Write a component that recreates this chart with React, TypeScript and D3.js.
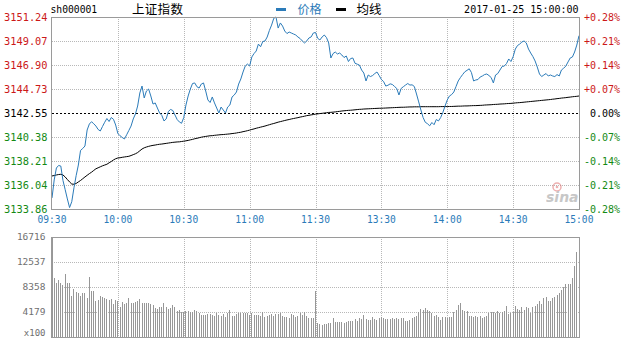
import React from 'react';
import * as d3 from 'd3';

// Shanghai Composite intraday, 2017-01-25 (one point per minute, 09:30-11:30 and 13:01-15:00)
const code = 'sh000001';
const title = '上证指数';
const stamp = '2017-01-25 15:00:00';
const prevClose = 3142.55;

const timeLabels = ['09:30', '10:00', '10:30', '11:00', '11:30', '13:30', '14:00', '14:30', '15:00'];
const timeIndex = [0, 30, 60, 90, 120, 150, 180, 210, 240];
const priceTicks = [3151.24, 3149.07, 3146.9, 3144.73, 3142.55, 3140.38, 3138.21, 3136.04, 3133.86];
const pctTicks = ['+0.28%', '+0.21%', '+0.14%', '+0.07%', '0.00%', '-0.07%', '-0.14%', '-0.21%', '-0.28%'];
const volTicks = [16716, 12537, 8358, 4179];

const price = [
  3134.86, 3136.49, 3137.57, 3137.8, 3137.75, 3136.44, 3135.61, 3134.77, 3133.99, 3134.52,
  3135.78, 3136.88, 3137.84, 3139.16, 3139.34, 3139.56, 3141.01, 3141.55, 3141.76, 3141.58,
  3141.37, 3141.06, 3140.92, 3141.33, 3141.71, 3142.05, 3141.78, 3142.14, 3141.98, 3141.46,
  3140.69, 3140.49, 3140.33, 3140.2, 3140.58, 3140.97, 3141.37, 3142.01, 3142.46, 3143.18,
  3144.36, 3144.99, 3143.91, 3144.54, 3144.72, 3144.09, 3143.36, 3143.46, 3143.0, 3142.55,
  3142.34, 3141.83, 3142.01, 3142.69, 3142.87, 3142.78, 3142.37, 3141.96, 3141.74, 3141.62,
  3142.14, 3143.27, 3144.09, 3144.72, 3145.22, 3145.27, 3144.93, 3144.81, 3145.17, 3145.27,
  3144.54, 3143.73, 3143.5, 3144.0, 3143.46, 3143.0, 3142.55, 3143.09, 3142.82, 3142.55,
  3143.09, 3143.27, 3144.0, 3144.18, 3144.45, 3145.17, 3145.63, 3146.26, 3146.8, 3146.98,
  3146.8, 3147.62, 3147.93, 3148.16, 3148.79, 3148.55, 3149.02, 3149.07, 3149.43, 3150.02,
  3150.51, 3151.12, 3151.24, 3150.24, 3150.7, 3150.42, 3149.97, 3149.74, 3149.88, 3149.79,
  3149.7, 3149.61, 3149.43, 3149.29, 3149.07, 3148.89, 3149.07, 3149.34, 3149.43, 3149.79,
  3149.84,
  3149.31, 3149.16, 3149.43, 3149.61, 3149.38, 3148.89, 3147.53, 3147.93, 3148.07,
  3147.89, 3147.98, 3147.8, 3147.57, 3147.71, 3147.21, 3147.48, 3147.53, 3147.05, 3146.97,
  3146.89, 3146.44, 3146.17, 3145.45, 3145.99, 3145.85, 3145.94, 3146.12, 3146.26, 3145.94,
  3145.58, 3145.4, 3144.99, 3145.06, 3145.19, 3145.13, 3144.95, 3144.77, 3144.18, 3144.77,
  3144.93, 3145.08, 3145.22, 3145.08, 3145.1, 3144.95, 3144.27, 3143.55, 3142.82, 3142.14,
  3141.71, 3141.58, 3141.39, 3141.69, 3141.49, 3141.96, 3141.83, 3142.14, 3142.6, 3143.18,
  3143.73, 3144.09, 3144.22, 3144.45, 3144.95, 3145.45, 3145.76, 3146.03, 3146.28, 3146.41,
  3146.55, 3146.22, 3145.45, 3145.54, 3145.58, 3145.81, 3145.9, 3146.03, 3146.08, 3145.94,
  3145.76, 3145.27, 3145.99, 3146.12, 3146.44, 3146.76, 3146.8, 3147.03, 3147.44, 3147.21,
  3147.65, 3148.34, 3148.66, 3148.79, 3148.98, 3149.07, 3148.89, 3148.34, 3147.98, 3147.66,
  3147.26, 3146.71, 3146.08, 3145.85, 3145.99, 3146.12, 3145.9, 3145.99, 3145.9, 3145.85,
  3146.03, 3145.9, 3146.44, 3146.6, 3146.8, 3147.17, 3147.53, 3147.62, 3148.07, 3148.7,
  3149.55,
];

const avgPrice = [
  3136.85, 3136.89, 3136.94, 3136.98, 3137.0, 3136.94, 3136.76, 3136.53, 3136.31, 3136.12,
  3136.1, 3136.17, 3136.31, 3136.44, 3136.6, 3136.76, 3136.91, 3137.06, 3137.19, 3137.35,
  3137.5, 3137.59, 3137.68, 3137.77, 3137.84, 3137.91, 3138.04, 3138.16, 3138.3, 3138.41,
  3138.48, 3138.5, 3138.54, 3138.57, 3138.6, 3138.63, 3138.7, 3138.78, 3138.86, 3138.97,
  3139.13, 3139.29, 3139.4, 3139.47, 3139.53, 3139.58, 3139.62, 3139.65, 3139.69, 3139.72,
  3139.74, 3139.77, 3139.8, 3139.83, 3139.86, 3139.89, 3139.91, 3139.93, 3139.94, 3139.97,
  3140.0, 3140.03, 3140.07, 3140.12, 3140.16, 3140.22, 3140.26, 3140.31, 3140.36, 3140.4,
  3140.43, 3140.46, 3140.49, 3140.5, 3140.53, 3140.55, 3140.57, 3140.59, 3140.6, 3140.62,
  3140.64, 3140.66, 3140.69, 3140.71, 3140.74, 3140.78, 3140.81, 3140.86, 3140.9, 3140.95,
  3141.0, 3141.06, 3141.11, 3141.17, 3141.22, 3141.27, 3141.32, 3141.37, 3141.43, 3141.49,
  3141.55, 3141.6, 3141.66, 3141.72, 3141.77, 3141.82, 3141.87, 3141.92, 3141.96, 3142.01,
  3142.05, 3142.09, 3142.13, 3142.18, 3142.22, 3142.26, 3142.31, 3142.34, 3142.38, 3142.41,
  3142.45,
  3142.47, 3142.5, 3142.52, 3142.55, 3142.57, 3142.6, 3142.61, 3142.63, 3142.65,
  3142.68, 3142.7, 3142.73, 3142.75, 3142.77, 3142.79, 3142.8, 3142.82, 3142.84, 3142.86,
  3142.88, 3142.89, 3142.91, 3142.92, 3142.93, 3142.94, 3142.95, 3142.96, 3142.97, 3142.98,
  3142.98, 3142.99, 3143.0, 3143.01, 3143.02, 3143.03, 3143.04, 3143.05, 3143.06, 3143.07,
  3143.07, 3143.08, 3143.09, 3143.1, 3143.1, 3143.11, 3143.11, 3143.11, 3143.12, 3143.12,
  3143.12, 3143.12, 3143.12, 3143.12, 3143.12, 3143.12, 3143.12, 3143.13, 3143.13, 3143.13,
  3143.13, 3143.14, 3143.14, 3143.15, 3143.16, 3143.17, 3143.17, 3143.18, 3143.19, 3143.19,
  3143.2, 3143.21, 3143.22, 3143.22, 3143.23, 3143.24, 3143.25, 3143.27, 3143.28, 3143.29,
  3143.3, 3143.32, 3143.33, 3143.34, 3143.36, 3143.37, 3143.38, 3143.4, 3143.41, 3143.42,
  3143.44, 3143.46, 3143.48, 3143.49, 3143.51, 3143.53, 3143.55, 3143.57, 3143.59, 3143.61,
  3143.63, 3143.65, 3143.67, 3143.69, 3143.71, 3143.73, 3143.75, 3143.77, 3143.8, 3143.82,
  3143.85, 3143.87, 3143.9, 3143.92, 3143.94, 3143.97, 3143.99, 3144.02, 3144.04, 3144.06,
  3144.09,
];

// volume per minute, in units of 100 shares
const volume = [
  16716, 9807, 8971, 9528, 8971, 8692, 10476, 8971, 8971, 6854,
  7968, 7578, 7411, 6854, 7411, 7411, 6464, 10085, 7689, 7689,
  6073, 6185, 6854, 6631, 6464, 6297, 6185, 6297, 5516, 6185,
  6073, 4959, 5906, 5516, 5739, 6464, 5739, 5739, 5906, 6073,
  6352, 5739, 5628, 5739, 5628, 5516, 5349, 4792, 4625, 4959,
  5070, 5739, 4959, 4625, 4792, 5349, 4959, 4402, 4513, 4234,
  4234, 4402, 4402, 4234, 4234, 4513, 4402, 4067, 3678, 3678,
  3678, 3845, 3845, 3678, 3510, 3956, 3678, 3510, 3845, 3287,
  4067, 4513, 3510, 3510, 3845, 4067, 4067, 4067, 4067, 4067,
  3678, 4067, 3678, 3678, 3678, 3510, 4234, 3287, 3510, 3678,
  3845, 3510, 3845, 3845, 3956, 3510, 3287, 3287, 3120, 3845,
  3678, 3287, 3510, 4067, 3678, 4234, 3510, 3120, 3120, 3120,
  7650,
  2285, 2173, 2006, 2173, 2173, 2285, 2285, 3120, 2563,
  2563, 2563, 2563, 2396, 2563, 2730, 2730, 2730, 2953, 2730,
  3120, 2953, 3678, 2953, 2842, 2842, 3287, 2953, 2842, 3120,
  3287, 3120, 2953, 2953, 2953, 3120, 2953, 3120, 2953, 3120,
  3120, 2730, 2730, 2842, 3120, 3287, 3510, 4234, 4625, 4513,
  4792, 4513, 4402, 4067, 3510, 3678, 3287, 2842, 3287, 3287,
  3120, 3287, 3287, 4234, 4513, 5349, 5739, 4513, 4402, 4402,
  3510, 3510, 3287, 3510, 3287, 3510, 3120, 3287, 3510, 3956,
  4234, 4234, 3956, 4402, 4067, 4234, 4402, 5182, 3845, 4067,
  4234, 5182, 4625, 4513, 4959, 4513, 5070, 4792, 4067, 4959,
  5182, 5516, 6073, 5516, 6464, 6742, 6073, 6073, 6464, 6742,
  7021, 7411, 7800, 8302, 8860, 8860, 8860, 9807, 11868, 14264,
  13000,
];

const W = 629;
const H = 338;
const left = 52;
const right = 579;
const pTop = 17;
const pBottom = 209;
const vTop = 237;
const vBottom = 337;

const MONO = '"DejaVu Sans Mono", monospace';
const CJK = '"Noto Sans CJK SC", sans-serif';
const RED = '#cc1818';
const GREEN = '#148a14';
const BLUE = '#2b7bb9';
const GRID = '#b8b8b8';
const FRAME = '#9a9a9a';

const px = (v: number) => Math.round(v) + 0.5;

export default function App() {
  const x = d3.scaleLinear().domain([0, 240]).range([left, right]);
  const y = d3.scaleLinear().domain([priceTicks[8], priceTicks[0]]).range([pBottom, pTop]);
  const yv = d3.scaleLinear().domain([0, volTicks[0]]).range([vBottom, vTop]);

  const line = d3
    .line<number>()
    .x((_, i) => x(i))
    .y((d) => y(d));

  const tickColor = (i: number) => (i < 4 ? RED : i === 4 ? '#000' : GREEN);

  return (
    <svg
      width={W}
      height={H}
      viewBox={`0 0 ${W} ${H}`}
      style={{ position: 'absolute', left: 0, top: 0, background: '#fff' }}
    >
      {/* header */}
      <text x={50.5} y={13.3} fontFamily={MONO} fontSize={9.7} fill="#000">
        {code}
      </text>
      <text x={132} y={14} fontFamily={CJK} fontSize={12.5} fill="#000" letterSpacing={0.3}>
        {title}
      </text>
      <rect x={276} y={8} width={10} height={3} fill={BLUE} />
      <text x={297.5} y={14} fontFamily={CJK} fontSize={12} fill={BLUE}>
        价格
      </text>
      <rect x={336} y={8} width={10} height={3} fill="#000" />
      <text x={356.5} y={14} fontFamily={CJK} fontSize={12.5} fill="#000">
        均线
      </text>
      <text x={578.5} y={12.5} textAnchor="end" fontFamily={MONO} fontSize={10} fill="#000">
        {stamp}
      </text>

      {/* price panel grid */}
      <g shapeRendering="crispEdges">
        {priceTicks.map((t, i) =>
          i === 0 || i === 8 || i === 4 ? null : (
            <line
              key={'hg' + i}
              x1={left}
              x2={right}
              y1={px(y(t))}
              y2={px(y(t))}
              stroke={GRID}
              strokeDasharray="1,1"
            />
          )
        )}
        {timeIndex.map((t, i) =>
          i === 0 || i === 8 ? null : (
            <g key={'vg' + i}>
              <line x1={px(x(t))} x2={px(x(t))} y1={pTop} y2={pBottom} stroke={GRID} strokeDasharray="1,1" />
              <line x1={px(x(t))} x2={px(x(t))} y1={vTop} y2={vBottom} stroke={GRID} strokeDasharray="1,1" />
            </g>
          )
        )}
        {volTicks.slice(1).map((t, i) => (
          <line
            key={'vh' + i}
            x1={left}
            x2={right}
            y1={px(yv(t))}
            y2={px(yv(t))}
            stroke={GRID}
            strokeDasharray="1,1"
          />
        ))}
      </g>

      {/* watermark */}
      <g opacity={0.55}>
        <circle cx={557} cy={187} r={4} fill="none" stroke="#e07070" strokeWidth={1.5} />
        <circle cx={557} cy={187} r={1.3} fill="#e07070" />
        <text x={546} y={201.5} fontFamily='"DejaVu Sans", sans-serif' fontStyle="italic" fontWeight="bold" fontSize={14} fill="#9a9a9a">
          sina
        </text>
      </g>

      {/* previous close */}
      <line
        x1={left}
        x2={right}
        y1={px(y(prevClose))}
        y2={px(y(prevClose))}
        stroke="#000"
        strokeDasharray="2,2"
        shapeRendering="crispEdges"
      />

      {/* volume bars */}
      <g shapeRendering="crispEdges" fill="#979797">
        {volume.map((v, i) => (
          <rect key={'b' + i} x={Math.floor(x(i))} y={yv(v)} width={1} height={vBottom - yv(v)} />
        ))}
      </g>

      {/* lines */}
      <path d={line(avgPrice) || ''} fill="none" stroke="#000" strokeWidth={1} />
      <path d={line(price) || ''} fill="none" stroke={BLUE} strokeWidth={1} />

      {/* frames */}
      <g fill="none" stroke={FRAME} shapeRendering="crispEdges">
        <rect x={left - 0.5} y={pTop + 0.5} width={right - left + 1} height={pBottom - pTop} />
        <rect x={left - 0.5} y={vTop + 0.5} width={right - left + 1} height={vBottom - vTop} />
      </g>

      {/* price axis labels */}
      {priceTicks.map((t, i) => (
        <text
          key={'pl' + i}
          x={47.5}
          y={y(t)}
          dy="0.36em"
          textAnchor="end"
          fontFamily={MONO}
          fontSize={10.3}
          fill={tickColor(i)}
        >
          {t.toFixed(2)}
        </text>
      ))}
      {pctTicks.map((t, i) => (
        <text
          key={'pr' + i}
          x={620}
          y={y(priceTicks[i])}
          dy="0.36em"
          textAnchor="end"
          fontFamily={MONO}
          fontSize={10}
          fill={tickColor(i)}
        >
          {t}
        </text>
      ))}

      {/* time axis */}
      {timeLabels.map((t, i) => (
        <text
          key={'t' + i}
          x={x(timeIndex[i])}
          y={223}
          textAnchor="middle"
          fontFamily={MONO}
          fontSize={9.6}
          fill={BLUE}
        >
          {t}
        </text>
      ))}

      {/* volume axis */}
      {volTicks.map((t, i) => (
        <text
          key={'vl' + i}
          x={45.5}
          y={yv(t)}
          dy="0.36em"
          textAnchor="end"
          fontFamily={MONO}
          fontSize={9.5}
          fill="#707070"
        >
          {t}
        </text>
      ))}
      <text x={45.5} y={336} textAnchor="end" fontFamily={MONO} fontSize={9} fill="#707070">
        x100
      </text>
    </svg>
  );
}
